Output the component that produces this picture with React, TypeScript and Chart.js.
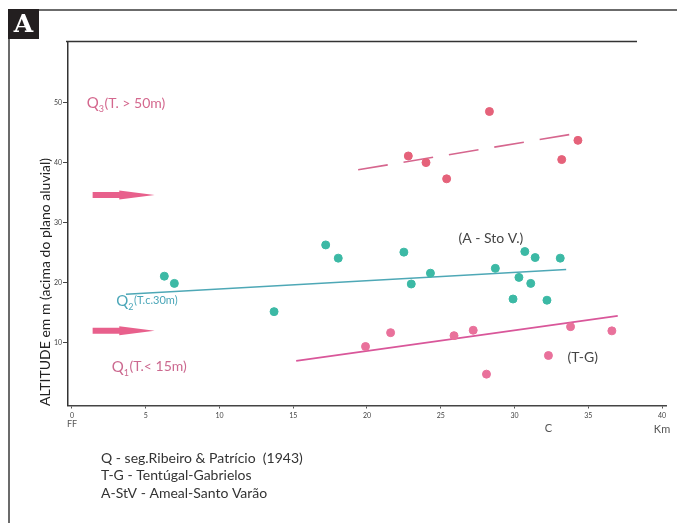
import React, { useEffect, useRef } from 'react';
import { Chart, registerables } from 'chart.js';

Chart.register(...registerables);

// Q3 terrace (T. > 50m) points
const q3X = [22.8, 24.0, 25.4, 28.3, 33.2, 34.3];
const q3Y = [41.1, 40.0, 37.3, 48.5, 40.5, 43.7];
// Q2 terrace (T.c.30m) points
const q2X = [6.26, 6.94, 13.7, 17.2, 18.05, 22.5, 23.0, 24.3, 28.7, 29.9, 30.3, 30.7, 31.1, 31.4, 32.2, 33.1];
const q2Y = [21.1, 19.9, 15.2, 26.3, 24.1, 25.1, 19.8, 21.6, 22.4, 17.3, 20.9, 25.2, 19.9, 24.2, 17.1, 24.1];
// Q1 terrace (T. < 15m) points
const q1X = [19.9, 21.6, 25.9, 27.2, 28.1, 32.3, 33.8, 36.6];
const q1Y = [9.4, 11.7, 11.2, 12.1, 4.8, 7.9, 12.7, 12.0];

// trend lines (start, end)
const q3LineX = [19.4, 34.3];
const q3LineY = [38.8, 44.9];
const q2LineX = [3.66, 33.5];
const q2LineY = [18.1, 22.2];
const q1LineX = [15.2, 37.0];
const q1LineY = [7.0, 14.5];

// arrows (levels in m, from/to in km)
const arrowLevels = [34.6, 12.0];
const arrowFromTo = [1.4, 5.6];

const xTickValues = [0, 5, 10, 15, 20, 25, 30, 35, 40];
const yTickValues = [10, 20, 30, 40, 50];

const yTitle = 'ALTITUDE em m (acima do plano aluvial)';
const footerLines = [
  'Q - seg.Ribeiro & Patrício  (1943)',
  'T-G - Tentúgal-Gabrielos',
  'A-StV - Ameal-Santo Varão',
];

const FONT = 'Lato, "Open Sans", sans-serif';

function pts(xs: number[], ys: number[]) {
  return xs.map((x, i) => ({ x, y: ys[i] }));
}

export default function App() {
  const ref = useRef<HTMLCanvasElement>(null);

  useEffect(() => {
    const canvas = ref.current;
    if (!canvas) return;

    const overlay = {
      id: 'overlay',
      afterDraw(chart: any) {
        const ctx = chart.ctx as CanvasRenderingContext2D;
        const xs = chart.scales.x;
        const ys = chart.scales.y;
        const area = chart.chartArea;
        ctx.save();

        // outer frame
        ctx.strokeStyle = '#6b6b6b';
        ctx.lineWidth = 2;
        ctx.beginPath();
        ctx.moveTo(38, 10);
        ctx.lineTo(677, 10);
        ctx.moveTo(9, 38);
        ctx.lineTo(9, 523);
        ctx.stroke();
        // panel letter
        ctx.fillStyle = '#231f20';
        ctx.fillRect(8, 9, 31, 30);
        ctx.fillStyle = '#ffffff';
        ctx.font = 'bold 25px "DejaVu Serif", "Liberation Serif", serif';
        ctx.textAlign = 'center';
        ctx.textBaseline = 'middle';
        ctx.fillText('A', 23.5, 25);

        // inner top border
        ctx.strokeStyle = '#333';
        ctx.lineWidth = 1.5;
        ctx.beginPath();
        ctx.moveTo(area.left - 2, area.top);
        ctx.lineTo(637, area.top);
        ctx.stroke();

        // arrows
        ctx.fillStyle = '#e8608c';
        arrowLevels.forEach((lv) => {
          const yp = ys.getPixelForValue(lv);
          const x0 = xs.getPixelForValue(arrowFromTo[0]);
          const x1 = xs.getPixelForValue(arrowFromTo[1]);
          const xm = x0 + (x1 - x0) * 0.43;
          ctx.beginPath();
          ctx.moveTo(x0, yp - 3);
          ctx.lineTo(xm, yp - 3);
          ctx.lineTo(xm, yp - 4.5);
          ctx.lineTo(x1, yp);
          ctx.lineTo(xm, yp + 4.5);
          ctx.lineTo(xm, yp + 3);
          ctx.lineTo(x0, yp + 3);
          ctx.closePath();
          ctx.fill();
        });

        // Q labels
        const drawQ = (vx: number, vy: number, sub: string, rest: string, color: string, restSize: number) => {
          let x = xs.getPixelForValue(vx);
          const y = ys.getPixelForValue(vy);
          ctx.fillStyle = color;
          ctx.textAlign = 'left';
          ctx.textBaseline = 'middle';
          ctx.font = `15px ${FONT}`;
          ctx.fillText('Q', x, y);
          x += ctx.measureText('Q').width;
          ctx.font = `9px ${FONT}`;
          ctx.fillText(sub, x, y + 6);
          x += ctx.measureText(sub).width + 0.5;
          ctx.font = `${restSize}px ${FONT}`;
          ctx.fillText(rest, x, y);
        };
        drawQ(1.0, 49.9, '3', '(T. > 50m)', '#d4688e', 14);
        drawQ(3.0, 17.0, '2', '(T.c.30m)', '#4aa6b8', 11);
        drawQ(2.7, 6.0, '1', '(T.< 15m)', '#cc6a90', 14);

        ctx.fillStyle = '#444';
        ctx.font = `14px ${FONT}`;
        ctx.textAlign = 'left';
        ctx.textBaseline = 'middle';
        ctx.fillText('(A - Sto V.)', xs.getPixelForValue(26.2), ys.getPixelForValue(27.3));
        ctx.fillText('(T-G)', xs.getPixelForValue(33.6), ys.getPixelForValue(7.5));

        // extra axis labels
        ctx.fillStyle = '#555';
        ctx.textAlign = 'center';
        ctx.font = `9px ${FONT}`;
        ctx.fillText('FF', xs.getPixelForValue(0), 424);
        ctx.font = `11px ${FONT}`;
        ctx.fillText('C', xs.getPixelForValue(32.3), 428);
        ctx.fillText('Km', xs.getPixelForValue(40), 429);

        // y title
        ctx.save();
        ctx.translate(45, 282);
        ctx.rotate(-Math.PI / 2);
        ctx.fillStyle = '#222';
        ctx.font = `14px ${FONT}`;
        ctx.textAlign = 'center';
        ctx.textBaseline = 'middle';
        ctx.fillText(yTitle, 0, 0);
        ctx.restore();

        // footer
        ctx.fillStyle = '#333';
        ctx.font = `14px ${FONT}`;
        ctx.textAlign = 'left';
        ctx.textBaseline = 'middle';
        footerLines.forEach((t, i) => ctx.fillText(t, 101, 458 + i * 17.5));

        ctx.restore();
      },
    };

    const chart = new Chart(canvas, {
      type: 'scatter',
      data: {
        datasets: [
          {
            label: 'Q3',
            data: pts(q3X, q3Y),
            backgroundColor: '#e5627a',
            borderColor: '#e5627a',
            pointRadius: 4,
          },
          {
            type: 'line',
            label: 'Q3 trend',
            data: pts(q3LineX, q3LineY),
            borderColor: '#d6668e',
            borderWidth: 1.6,
            borderDash: [30, 16],
            pointRadius: 0,
            fill: false,
          },
          {
            label: 'Q2',
            data: pts(q2X, q2Y),
            backgroundColor: '#3cb9a5',
            borderColor: '#3cb9a5',
            pointRadius: 4,
          },
          {
            type: 'line',
            label: 'Q2 trend',
            data: pts(q2LineX, q2LineY),
            borderColor: '#4ea8b6',
            borderWidth: 1.5,
            pointRadius: 0,
            fill: false,
          },
          {
            label: 'Q1',
            data: pts(q1X, q1Y),
            backgroundColor: '#e9719b',
            borderColor: '#e9719b',
            pointRadius: 4,
          },
          {
            type: 'line',
            label: 'Q1 trend',
            data: pts(q1LineX, q1LineY),
            borderColor: '#d9579a',
            borderWidth: 1.7,
            pointRadius: 0,
            fill: false,
          },
        ] as any,
      },
      options: {
        responsive: false,
        animation: false,
        devicePixelRatio: 1,
        layout: { padding: { left: 0, top: 41.5, right: 11, bottom: 97.5 } },
        plugins: { legend: { display: false }, tooltip: { enabled: false } },
        scales: {
          x: {
            type: 'linear',
            min: -0.27,
            max: 40.27,
            afterBuildTicks: (s: any) => {
              s.ticks = xTickValues.map((v) => ({ value: v }));
            },
            afterFit: (s: any) => {
              s.height = 20;
            },
            ticks: {
              font: { size: 7, family: FONT },
              color: '#444',
              padding: 3,
              maxRotation: 0,
              autoSkip: false,
            },
            grid: { drawOnChartArea: false, tickLength: 3, color: '#555' },
            border: { color: '#444', width: 1.5 },
          },
          y: {
            type: 'linear',
            min: -0.42,
            max: 60.15,
            afterBuildTicks: (s: any) => {
              s.ticks = yTickValues.map((v) => ({ value: v }));
            },
            afterFit: (s: any) => {
              s.width = 68;
            },
            ticks: {
              font: { size: 7, family: FONT },
              color: '#444',
              padding: 1,
            },
            grid: { drawOnChartArea: false, tickLength: 5, color: '#444' },
            border: { color: '#333', width: 1.5 },
          },
        },
      } as any,
      plugins: [overlay],
    });

    return () => chart.destroy();
  }, []);

  return (
    <div style={{ position: 'absolute', left: 0, top: 0, width: 677, height: 523, background: '#fff' }}>
      <canvas ref={ref} width={677} height={523} style={{ display: 'block' }} />
    </div>
  );
}
